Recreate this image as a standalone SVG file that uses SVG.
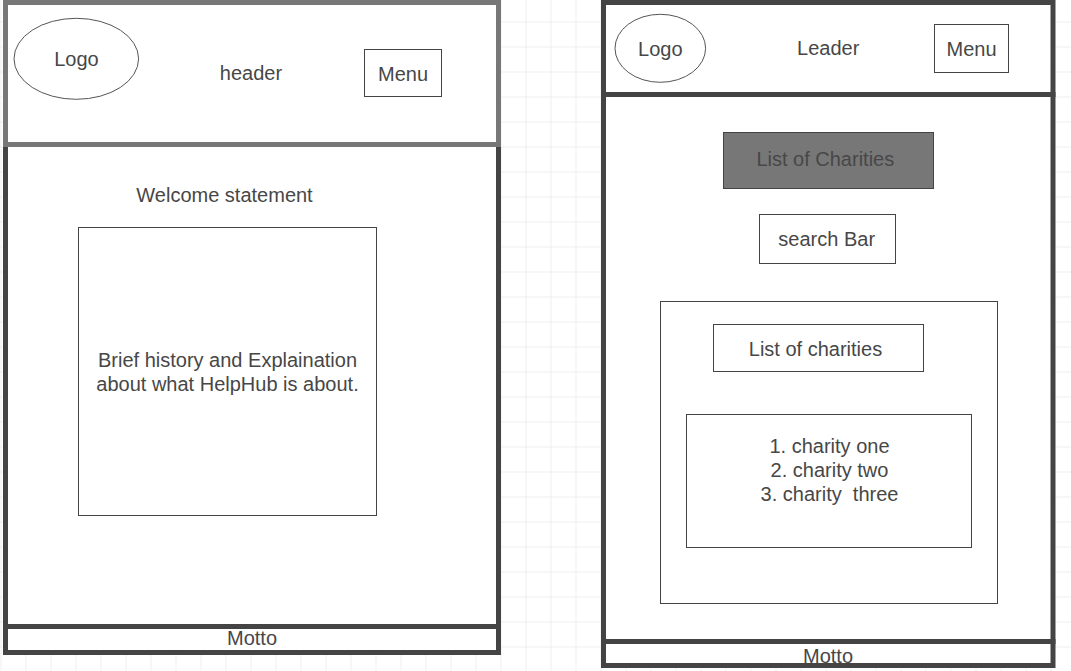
<svg xmlns="http://www.w3.org/2000/svg" width="1071" height="671" viewBox="0 0 1071 671">
  <defs>
    <pattern id="grid" x="0.5" y="-3.5" width="25" height="25" patternUnits="userSpaceOnUse">
      <path d="M0 0.5H25M0.5 0V25" fill="none" stroke="#eeeeee" stroke-width="1"/>
    </pattern>
    <style>
      .frame-light { fill: #ffffff; stroke: #777777; stroke-width: 5; }
      .frame { fill: #ffffff; stroke: #444444; stroke-width: 5; }
      .box { fill: #ffffff; stroke: #444444; stroke-width: 1; }
      .box-dark { fill: #777777; stroke: #444444; stroke-width: 1; }
      .oval { fill: #ffffff; stroke: #555555; stroke-width: 1; }
      .label { font-family: "Liberation Sans", Arial, sans-serif; font-size: 20px; fill: #474747; text-anchor: middle; }
    </style>
  </defs>

  <!-- canvas with grid -->
  <rect x="0" y="0" width="1071" height="671" fill="#ffffff"/>
  <rect x="0" y="0" width="1071" height="671" fill="url(#grid)"/>

  <!-- ===== Home page wireframe ===== -->
  <g id="home-body">
    <rect class="frame" x="5.5" y="144.5" width="493" height="482"/>
  </g>
  <g id="home-header">
    <rect class="frame-light" x="5.5" y="2.5" width="493" height="142"/>
  </g>
  <g id="home-logo">
    <ellipse class="oval" cx="76.3" cy="58.8" rx="62.3" ry="40.5"/>
    <text class="label" x="76.5" y="66">Logo</text>
  </g>
  <g id="home-header-label">
    <text class="label" x="251" y="80">header</text>
  </g>
  <g id="home-menu">
    <rect class="box" x="364.5" y="49.5" width="77" height="47"/>
    <text class="label" x="403" y="81">Menu</text>
  </g>
  <g id="home-welcome">
    <text class="label" x="224.5" y="201.5">Welcome statement</text>
  </g>
  <g id="home-about">
    <rect class="box" x="78.5" y="227.5" width="298" height="288"/>
    <text class="label" x="227.5" y="366.5">Brief history and Explaination</text>
    <text class="label" x="227.5" y="390.5">about what HelpHub is about.</text>
  </g>
  <g id="home-footer">
    <rect class="frame" x="5.5" y="626.5" width="493" height="26"/>
    <text class="label" x="252" y="644.5">Motto</text>
  </g>

  <!-- ===== Charities page wireframe ===== -->
  <g id="list-body">
    <rect class="frame" x="603.5" y="94.5" width="449.5" height="547"/>
  </g>
  <g id="list-header">
    <rect class="frame" x="603.5" y="2.5" width="449.5" height="92"/>
  </g>
  <g id="list-logo">
    <ellipse class="oval" cx="660.3" cy="48.3" rx="45.3" ry="34"/>
    <text class="label" x="660.3" y="56">Logo</text>
  </g>
  <g id="list-header-label">
    <text class="label" x="828.2" y="55">Leader</text>
  </g>
  <g id="list-menu">
    <rect class="box" x="934.5" y="24.5" width="74" height="48"/>
    <text class="label" x="971.6" y="56">Menu</text>
  </g>
  <g id="list-title">
    <rect class="box-dark" x="723.5" y="132.5" width="210" height="56"/>
    <text class="label" x="825.3" y="165.5">List of Charities</text>
  </g>
  <g id="list-search">
    <rect class="box" x="759.5" y="214.5" width="136" height="49"/>
    <text class="label" x="826.7" y="246">search Bar</text>
  </g>
  <g id="list-panel">
    <rect class="box" x="660.5" y="301.5" width="337" height="302"/>
  </g>
  <g id="list-panel-title">
    <rect class="box" x="713.5" y="324.5" width="210" height="47"/>
    <text class="label" x="815.5" y="355.5">List of charities</text>
  </g>
  <g id="list-items">
    <rect class="box" x="686.5" y="414.5" width="285" height="133"/>
    <text class="label" x="829.5" y="452.5" style="white-space:pre">1. charity one</text>
    <text class="label" x="829.5" y="476.5" style="white-space:pre">2. charity two</text>
    <text class="label" x="829.5" y="500.5" style="white-space:pre">3. charity  three</text>
  </g>
  <g id="list-footer">
    <rect x="603.5" y="641.5" width="449.5" height="24" fill="#ffffff"/>
    <text class="label" x="828" y="663">Motto</text>
    <rect x="603.5" y="641.5" width="449.5" height="24" fill="none" stroke="#444444" stroke-width="5"/>
  </g>
</svg>
